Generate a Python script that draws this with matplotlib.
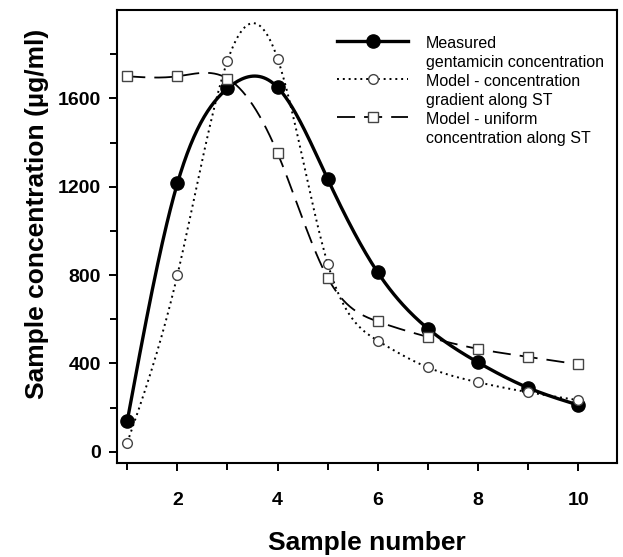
import numpy as np
import matplotlib
matplotlib.use("Agg")
import matplotlib.pyplot as plt
from matplotlib.legend_handler import HandlerLine2D

# ---- data ----
sample_number = [1, 2, 3, 4, 5, 6, 7, 8, 9, 10]
measured = [140, 1215, 1645, 1650, 1235, 812, 558, 405, 290, 212]
model_gradient = [42, 800, 1770, 1780, 852, 503, 382, 315, 270, 234]
model_uniform = [1700, 1700, 1690, 1352, 788, 590, 520, 466, 430, 396]
labels = ["Measured\ngentamicin concentration",
          "Model - concentration\ngradient along ST",
          "Model - uniform\nconcentration along ST"]
xticks = [2, 4, 6, 8, 10]
yticks = [0, 400, 800, 1200, 1600]


def natural_spline(x, y, n=400):
    x = np.asarray(x, float)
    y = np.asarray(y, float)
    m = len(x)
    h = np.diff(x)
    A = np.zeros((m, m))
    b = np.zeros(m)
    A[0, 0] = A[-1, -1] = 1
    for i in range(1, m - 1):
        A[i, i - 1] = h[i - 1]
        A[i, i] = 2 * (h[i - 1] + h[i])
        A[i, i + 1] = h[i]
        b[i] = 6 * ((y[i + 1] - y[i]) / h[i] - (y[i] - y[i - 1]) / h[i - 1])
    M = np.linalg.solve(A, b)
    xs = np.linspace(x[0], x[-1], n)
    idx = np.clip(np.searchsorted(x, xs) - 1, 0, m - 2)
    x0, x1 = x[idx], x[idx + 1]
    hh = x1 - x0
    a = (x1 - xs) / hh
    bb = (xs - x0) / hh
    ys = (a * y[idx] + bb * y[idx + 1]
          + ((a ** 3 - a) * M[idx] + (bb ** 3 - bb) * M[idx + 1]) * hh ** 2 / 6)
    return xs, ys


plt.rcParams['font.family'] = ['Liberation Sans', 'DejaVu Sans']

fig = plt.figure(figsize=(6.23, 5.57), dpi=100)
ax = fig.add_axes([0.187, 0.169, 0.803, 0.813])

styles = [
    dict(ls='-', lw=2.4, marker='o', ms=9.5, mfc='black', mec='black'),
    dict(ls=(0, (1, 2)), lw=1.4, marker='o', ms=7, mfc='white', mec='#444444', mew=1.0),
    dict(ls=(0, (10, 5)), lw=1.3, marker='s', ms=7, mfc='white', mec='#444444', mew=1.0),
]
series = [measured, model_gradient, model_uniform]

handles = []
for ys, st, lab in zip(series, styles, labels):
    sx, sy = natural_spline(sample_number, ys)
    ax.plot(sx, sy, color='black', ls=st['ls'], lw=st['lw'], zorder=2)
    ax.plot(sample_number, ys, ls='none', marker=st['marker'], ms=st['ms'],
            mfc=st['mfc'], mec=st['mec'], mew=st.get('mew', 1.0), zorder=3)
    h, = ax.plot([], [], color='black', ls=st['ls'], lw=st['lw'], marker=st['marker'],
                 ms=st['ms'], mfc=st['mfc'], mec=st['mec'], mew=st.get('mew', 1.0),
                 label=lab)
    handles.append(h)

LEG_FS = 11.5


class TopHandler(HandlerLine2D):
    def create_artists(self, legend, orig_handle, xdescent, ydescent, width,
                       height, fontsize, trans):
        arts = super().create_artists(legend, orig_handle, xdescent, ydescent,
                                      width, height, fontsize, trans)
        for a in arts:
            a.set_ydata(np.asarray(a.get_ydata(), float) + 0.78 * fontsize)
        return arts


leg = ax.legend(handles=handles, loc='upper left',
                bbox_to_anchor=(337 / 623, 1 - 36 / 557),
                bbox_transform=fig.transFigure, frameon=False, fontsize=LEG_FS,
                handlelength=4.45, handletextpad=1.1, labelspacing=0.28,
                borderpad=0, borderaxespad=0, numpoints=1,
                handler_map={matplotlib.lines.Line2D: TopHandler()})
for t in leg.get_texts():
    t.set_linespacing(1.3)

ax.set_xlim(0.785, 10.77)
ax.set_ylim(-50, 2000)
ax.set_xticks(xticks)
ax.set_xticks([1, 3, 5, 7, 9], minor=True)
ax.set_yticks(yticks)
ax.set_yticks([200, 600, 1000, 1400, 1800], minor=True)
ax.tick_params(which='both', direction='out', width=1.4, colors='black')
ax.tick_params(which='major', length=6, labelsize=14)
ax.tick_params(axis='x', which='major', pad=15)
ax.tick_params(axis='y', which='major', pad=5)
ax.tick_params(which='minor', length=5)
for lab in ax.get_xticklabels() + ax.get_yticklabels():
    lab.set_fontweight('bold')
for sp in ax.spines.values():
    sp.set_linewidth(1.5)
    sp.set_color('black')

ax.set_xlabel('Sample number', fontsize=19, fontweight='bold', labelpad=15.5)
ax.set_ylabel('Sample concentration (\u00b5g/ml)', fontsize=19, fontweight='bold')
ax.yaxis.set_label_coords(-0.134, 0.55)

fig.savefig('out.png', dpi=100, facecolor='white')
